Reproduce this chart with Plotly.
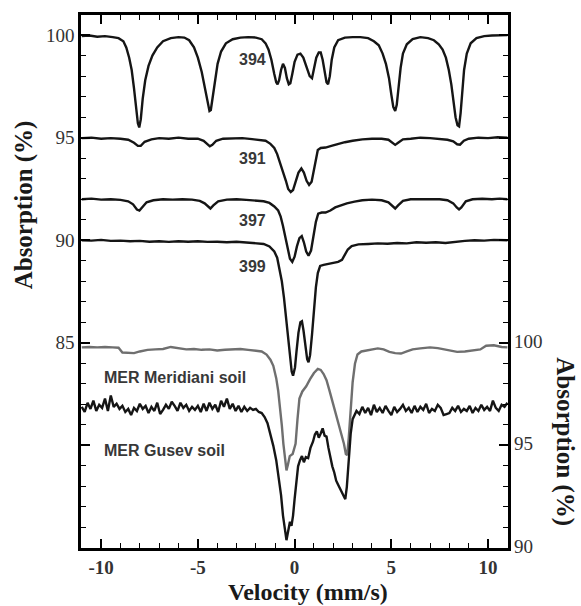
import plotly.graph_objects as go

# ---------------- data ----------------
v394 = [-11.0, -10.6, -10.2, -9.8, -9.4, -9.1, -8.85, -8.7, -8.55, -8.42, -8.3, -8.2, -8.1, -8.03, -7.95,
        -7.85, -7.72, -7.55, -7.35, -7.1, -6.8, -6.4, -6.0, -5.7, -5.45, -5.2, -5.0, -4.8, -4.62, -4.5,
        -4.4, -4.33, -4.25, -4.12, -3.98, -3.8, -3.55, -3.2, -2.8, -2.4, -2.0, -1.7, -1.5, -1.35, -1.2,
        -1.05, -0.95, -0.88, -0.8, -0.7, -0.6, -0.5, -0.4, -0.3, -0.22, -0.12, 0.0, 0.15, 0.3, 0.45,
        0.62, 0.78, 0.9, 1.0, 1.12, 1.25, 1.35, 1.45, 1.55, 1.65, 1.73, 1.82, 1.92, 2.05, 2.25,
        2.6, 3.0, 3.4, 3.8, 4.1, 4.35, 4.55, 4.72, 4.88, 5.0, 5.1, 5.2, 5.28, 5.38, 5.48,
        5.6, 5.8, 6.1, 6.5, 6.9, 7.2, 7.45, 7.65, 7.82, 7.97, 8.1, 8.22, 8.32, 8.42, 8.5,
        8.58, 8.66, 8.76, 8.9, 9.1, 9.4, 9.8, 10.2, 10.6, 11.0]
a394 = [99.95, 99.98, 99.92, 99.95, 99.9, 99.85, 99.7, 99.4, 98.9, 98.3, 97.4, 96.5, 95.7, 95.5, 95.9,
        96.9, 97.8, 98.5, 99.0, 99.4, 99.7, 99.85, 99.9, 99.88, 99.75, 99.4, 98.9, 98.2, 97.4, 96.7,
        96.3, 96.35, 96.9, 97.8, 98.6, 99.2, 99.6, 99.8, 99.88, 99.9, 99.88, 99.8, 99.6, 99.3, 98.8,
        98.1, 97.7, 97.6, 97.8, 98.3, 98.6, 98.4, 97.9, 97.6, 97.65, 98.1, 98.7, 99.05, 99.1, 98.9,
        98.4, 98.0, 97.9, 98.3, 98.9, 99.15, 99.15, 98.8, 98.2, 97.7, 97.6, 98.0, 98.8, 99.4, 99.75,
        99.88, 99.9, 99.9, 99.85, 99.7, 99.5, 99.1, 98.6, 97.9, 97.1, 96.5, 96.3, 96.6, 97.5, 98.4,
        99.1, 99.55, 99.8, 99.9, 99.85, 99.75, 99.55, 99.3, 98.9, 98.3, 97.6, 96.8, 96.0, 95.6, 95.55,
        96.2, 97.3, 98.3, 99.1, 99.6, 99.85, 99.95, 99.98, 100.0, 100.0]

v391 = [-11.0, -10.5, -10.0, -9.5, -9.0, -8.6, -8.3, -8.1, -7.95, -7.75, -7.4, -7.0, -6.5, -6.0, -5.5,
        -5.0, -4.7, -4.5, -4.38, -4.25, -4.05, -3.7, -3.2, -2.7, -2.2, -1.8, -1.5, -1.25, -1.05, -0.9,
        -0.75, -0.6, -0.45, -0.33, -0.2, -0.08, 0.05, 0.2, 0.35, 0.48, 0.62, 0.75, 0.88, 1.0, 1.1,
        1.2, 1.35, 1.6, 1.9, 2.2, 2.6, 3.0, 3.5, 4.0, 4.5, 4.85, 5.05, 5.2, 5.35, 5.6,
        6.0, 6.5, 7.0, 7.5, 7.9, 8.2, 8.4, 8.55, 8.75, 9.0, 9.5, 10.0, 10.5, 11.0]
a391 = [94.98, 95.0, 94.95, 94.98, 94.95, 94.9, 94.75, 94.6, 94.6, 94.8, 94.92, 94.98, 94.95, 95.0, 94.95,
        94.95, 94.85, 94.7, 94.58, 94.65, 94.85, 94.95, 94.95, 94.98, 94.93, 94.9, 94.85, 94.7, 94.5, 94.2,
        93.8, 93.4, 92.9, 92.5, 92.35, 92.45, 92.9, 93.3, 93.5, 93.3, 92.9, 92.7, 92.85, 93.4, 94.0,
        94.4, 94.5, 94.52, 94.6, 94.68, 94.78, 94.85, 94.92, 94.95, 94.95, 94.9, 94.78, 94.65, 94.75, 94.92,
        94.95, 95.0, 94.98, 94.95, 94.9, 94.82, 94.68, 94.66, 94.85, 94.95, 95.0, 94.98, 95.02, 95.0]

v397 = [-11.0, -10.5, -10.0, -9.5, -9.0, -8.6, -8.35, -8.15, -8.02, -7.88, -7.65, -7.3, -6.8, -6.3, -5.8,
        -5.3, -4.9, -4.65, -4.45, -4.35, -4.2, -3.95, -3.5, -3.0, -2.5, -2.0, -1.6, -1.3, -1.05, -0.85,
        -0.72, -0.6, -0.48, -0.36, -0.24, -0.12, 0.0, 0.12, 0.25, 0.37, 0.48, 0.6, 0.72, 0.85, 0.98,
        1.1, 1.22, 1.4, 1.6, 1.85, 2.1, 2.4, 2.7, 3.1, 3.5, 4.0, 4.5, 4.85, 5.05, 5.2,
        5.35, 5.6, 6.0, 6.5, 7.0, 7.5, 7.9, 8.2, 8.38, 8.5, 8.62, 8.85, 9.2, 9.7, 10.2, 10.6, 11.0]
a397 = [92.0, 92.03, 91.98, 92.0, 91.97, 91.9, 91.75, 91.5, 91.45, 91.6, 91.85, 91.95, 92.0, 91.98, 92.0,
        91.98, 91.92, 91.8, 91.6, 91.55, 91.7, 91.9, 91.98, 92.0, 91.97, 91.95, 91.9, 91.82, 91.65, 91.45,
        91.15, 90.7, 90.2, 89.6, 89.1, 88.95, 89.2, 89.7, 90.1, 90.2, 89.9, 89.45, 89.25, 89.5, 90.2,
        90.9, 91.3, 91.35, 91.35, 91.45, 91.6, 91.72, 91.8, 91.88, 91.95, 91.98, 91.95, 91.85, 91.7, 91.55,
        91.7, 91.92, 92.0, 92.0, 91.97, 92.0, 91.95, 91.8, 91.6, 91.5, 91.6, 91.9, 92.0, 92.02, 92.0, 92.03, 92.0]

v399 = [-11.0, -10.5, -10.0, -9.5, -9.0, -8.5, -8.0, -7.5, -7.0, -6.5, -6.0, -5.5, -5.0, -4.5, -4.0,
        -3.5, -3.0, -2.5, -2.0, -1.6, -1.3, -1.05, -0.9, -0.78, -0.66, -0.55, -0.45, -0.35, -0.25, -0.15,
        -0.08, 0.02, 0.1, 0.2, 0.3, 0.38, 0.46, 0.56, 0.65, 0.72, 0.8, 0.9, 1.0, 1.1, 1.2,
        1.32, 1.5, 1.75, 2.0, 2.25, 2.45, 2.6, 2.75, 2.95, 3.3, 3.8, 4.3, 4.8, 5.3, 5.8,
        6.3, 6.8, 7.3, 7.8, 8.3, 8.8, 9.3, 9.8, 10.3, 11.0]
a399 = [90.0, 89.98, 90.02, 89.97, 89.98, 89.95, 89.97, 89.93, 89.95, 89.92, 89.95, 89.93, 89.95, 89.92, 89.93,
        89.9, 89.93, 89.9, 89.88, 89.82, 89.7, 89.45, 89.15, 88.6, 88.0, 87.2, 86.3, 85.3, 84.3, 83.6,
        83.4, 83.8, 84.6, 85.5, 86.0, 86.05, 85.6, 84.8, 84.2, 84.05, 84.4, 85.4, 86.6, 87.7, 88.4,
        88.75, 88.8, 88.85, 88.9, 88.95, 89.05, 89.3, 89.55, 89.72, 89.8, 89.82, 89.85, 89.83, 89.87, 89.85,
        89.9, 89.88, 89.9, 89.87, 89.93, 89.97, 90.0, 89.98, 90.02, 90.0]

# MER soils, values on the right-hand axis (%)
v_mer_m = [-11.0, -10.6, -10.2, -9.8, -9.4, -9.1, -8.9, -8.6, -8.3, -8.0, -7.6, -7.2, -6.8, -6.4, -6.0,
           -5.6, -5.2, -4.8, -4.4, -4.0, -3.6, -3.2, -2.8, -2.4, -2.0, -1.7, -1.45, -1.25, -1.1, -0.95,
           -0.85, -0.75, -0.66, -0.58, -0.5, -0.42, -0.34, -0.25, -0.1, 0.05, 0.15, 0.25, 0.4, 0.6, 0.8,
           1.0, 1.2, 1.35, 1.5, 1.65, 1.8, 1.95, 2.1, 2.25, 2.4, 2.55, 2.65, 2.72, 2.8, 2.9,
           3.0, 3.12, 3.25, 3.45, 3.7, 4.0, 4.3, 4.6, 4.9, 5.2, 5.5, 5.8, 6.1, 6.5, 7.0,
           7.4, 7.8, 8.1, 8.4, 8.8, 9.2, 9.6, 9.9, 10.3, 10.7, 11.0]
a_mer_m = [99.7, 99.72, 99.7, 99.72, 99.7, 99.68, 99.45, 99.42, 99.42, 99.5, 99.58, 99.6, 99.62, 99.72, 99.65,
           99.6, 99.62, 99.58, 99.6, 99.55, 99.58, 99.6, 99.62, 99.58, 99.55, 99.5, 99.35, 99.1, 98.8, 98.2,
           97.6, 96.8, 95.9, 95.0, 94.3, 93.7, 94.0, 94.4, 94.5, 95.0, 96.2, 97.2, 97.55, 97.8, 98.15,
           98.45, 98.65, 98.6, 98.4, 98.1, 97.6, 97.1, 96.5, 96.0, 95.5, 95.0, 94.5, 94.45, 95.3, 96.8,
           98.0, 98.9, 99.35, 99.5, 99.55, 99.6, 99.65, 99.6, 99.48, 99.42, 99.4, 99.5, 99.6, 99.65, 99.7,
           99.66, 99.6, 99.55, 99.48, 99.5, 99.55, 99.6, 99.78, 99.8, 99.72, 99.7]

v_mer_g = [-11.0, -10.85, -10.7, -10.55, -10.4, -10.25, -10.1, -9.95, -9.8, -9.65, -9.5, -9.35, -9.2, -9.05, -8.9,
           -8.75, -8.6, -8.45, -8.3, -8.15, -8.0, -7.85, -7.7, -7.55, -7.4, -7.25, -7.1, -6.95, -6.8, -6.65,
           -6.5, -6.35, -6.2, -6.05, -5.9, -5.75, -5.6, -5.45, -5.3, -5.15, -5.0, -4.85, -4.7, -4.55, -4.4,
           -4.25, -4.1, -3.95, -3.8, -3.65, -3.5, -3.35, -3.2, -3.05, -2.9, -2.75, -2.6, -2.45, -2.3, -2.15,
           -2.0, -1.85, -1.7, -1.55, -1.4, -1.25, -1.1, -0.95, -0.82, -0.7, -0.6, -0.5, -0.42, -0.36, -0.3,
           -0.24, -0.16, -0.08, 0.0, 0.08, 0.18, 0.28, 0.38, 0.48, 0.58, 0.7, 0.82, 0.95, 1.05, 1.15,
           1.25, 1.35, 1.45, 1.55, 1.65, 1.75, 1.85, 1.95, 2.05, 2.15, 2.25, 2.35, 2.45, 2.55, 2.62,
           2.7, 2.8, 2.9, 3.0, 3.1, 3.2, 3.35, 3.5, 3.65, 3.8, 3.95, 4.1, 4.25, 4.4, 4.55,
           4.7, 4.85, 5.0, 5.15, 5.3, 5.45, 5.6, 5.75, 5.9, 6.05, 6.2, 6.35, 6.5, 6.65, 6.8,
           6.95, 7.1, 7.25, 7.4, 7.55, 7.7, 7.85, 8.0, 8.15, 8.3, 8.45, 8.6, 8.75, 8.9, 9.05,
           9.2, 9.35, 9.5, 9.65, 9.8, 9.95, 10.1, 10.25, 10.4, 10.55, 10.7, 10.85, 11.0]
a_mer_g = [96.8, 96.55, 97.0, 96.7, 97.1, 96.6, 96.9, 96.75, 97.2, 96.6, 97.35, 96.8, 96.95, 96.7, 96.85,
           96.55, 96.7, 96.4, 96.75, 96.6, 96.95, 96.7, 96.85, 96.5, 96.8, 96.6, 97.0, 96.45, 96.65, 96.9,
           96.7, 97.05, 96.85, 96.6, 97.0, 96.75, 96.9, 96.6, 96.8, 96.65, 96.85, 96.55, 96.95, 96.6, 97.0,
           96.7, 96.9, 96.55, 97.1, 96.8, 97.2, 96.7, 96.95, 96.6, 96.85, 96.55, 96.8, 96.6, 96.75, 96.65,
           96.7, 96.55, 96.5, 96.3, 96.0, 95.5, 94.9, 94.2, 93.4, 92.5, 91.5, 90.7, 90.3, 90.6, 90.9,
           91.2, 91.0, 91.5, 92.3, 93.2, 93.9, 94.2, 94.4, 94.1, 94.35, 94.3, 94.8, 95.1, 95.45, 95.6,
           95.3, 95.5, 95.75, 95.4, 95.35, 94.8, 94.3, 93.9, 93.6, 93.2, 93.0, 92.8, 92.65, 92.45, 92.3,
           92.9, 94.3, 95.5, 96.2, 96.4, 96.6, 96.45, 96.8, 96.5, 96.75, 96.4, 96.9, 96.55, 96.75, 96.5,
           96.85, 96.6, 96.4, 96.8, 96.55, 96.7, 96.9, 96.6, 96.75, 96.5, 96.85, 96.55, 96.8, 96.65, 96.95,
           96.5, 96.7, 96.6, 96.9, 96.75, 96.4, 96.45, 96.5, 96.75, 96.6, 96.85, 96.55, 96.7, 96.6, 96.85,
           96.5, 96.75, 96.6, 96.9, 96.65, 96.8, 96.6, 97.1, 96.75, 96.6, 96.9, 96.8, 97.0]

sample_labels = ["394", "391", "397", "399"]
sample_label_pos = [(-2.2, 98.8), (-2.2, 93.97), (-2.2, 90.97), (-2.2, 88.7)]
soil_labels = ["MER Meridiani soil", "MER Gusev soil"]
soil_label_pos = [(-9.97, 83.3), (-9.97, 79.76)]

x_ticks = [-10, -5, 0, 5, 10]
x_tick_text = ["<b>-10</b>", "<b>-5</b>", "<b>0</b>", "<b>5</b>", "<b>10</b>"]
y_left_ticks = [80, 85, 90, 95, 100]
y_left_text = ["", "85", "90", "95", "100"]
y_right_ticks = [90, 95, 100]

X_RANGE = [-11.04, 11.03]
YL_RANGE = [75.0, 100.98]
# right-hand scale = left-hand scale shifted by this amount (right value - shift = left value)
RIGHT_SHIFT = 14.92

# ---------------- figure ----------------
BLACK = "#151515"
GRAY = "#6f6f6f"
LW = 2.4
serif = "Liberation Serif"

fig = go.Figure()
for vx, ay in [(v394, a394), (v391, a391), (v397, a397), (v399, a399)]:
    fig.add_trace(go.Scatter(x=vx, y=ay, mode="lines", line=dict(color=BLACK, width=LW),
                             showlegend=False))
for vx, ay, col in [(v_mer_m, a_mer_m, GRAY), (v_mer_g, a_mer_g, BLACK)]:
    fig.add_trace(go.Scatter(x=vx, y=[a - RIGHT_SHIFT for a in ay], mode="lines",
                             line=dict(color=col, width=LW), showlegend=False))

ann = []
for t, (x, y) in zip(sample_labels, sample_label_pos):
    ann.append(dict(x=x, y=y, xref="x", yref="y", text="<b>" + t + "</b>", showarrow=False,
                    xanchor="center", yanchor="middle",
                    font=dict(family="Liberation Sans", size=16, color="#383838")))
for t, (x, y) in zip(soil_labels, soil_label_pos):
    ann.append(dict(x=x, y=y, xref="x", yref="y", text="<b>" + t + "</b>", showarrow=False,
                    xanchor="left", yanchor="middle",
                    font=dict(family="Liberation Sans", size=16, color="#383838")))

# right-hand axis tick labels (MER scale)
for v in y_right_ticks:
    ann.append(dict(x=1.0, y=v - RIGHT_SHIFT, xref="paper", yref="y", text=str(v), showarrow=False,
                    xanchor="left", yanchor="middle", xshift=4,
                    font=dict(family=serif, size=19, color="#333333")))

ann.append(dict(x=-0.1336, y=0.6447, xref="paper", yref="paper", text="<b>Absorption (%)</b>",
                textangle=-90, showarrow=False, xanchor="center", yanchor="middle",
                font=dict(family=serif, size=25, color="#1a1a1a")))
ann.append(dict(x=1.1343, y=0.1996, xref="paper", yref="paper", text="<b>Absorption (%)</b>",
                textangle=90, showarrow=False, xanchor="center", yanchor="middle",
                font=dict(family=serif, size=25, color="#1a1a1a")))
ann.append(dict(x=0.531, y=-0.109, xref="paper", yref="paper", text="<b>Velocity (mm/s)</b>",
                showarrow=False, xanchor="center", yanchor="bottom", borderpad=0,
                font=dict(family=serif, size=24, color="#1a1a1a")))

fig.update_layout(
    width=581, height=606,
    margin=dict(l=81, r=73, t=13, b=58),
    paper_bgcolor="white", plot_bgcolor="white",
    font=dict(family=serif, size=19, color="#333333"),
    annotations=ann,
    xaxis=dict(range=X_RANGE, tickmode="array", tickvals=x_ticks, ticktext=x_tick_text,
               ticks="inside", ticklen=9, tickwidth=2, tickcolor="black",
               minor=dict(ticks="inside", ticklen=5, tickwidth=1, tickcolor="black", dtick=1),
               showline=True, linewidth=2.5, linecolor="black", mirror="ticks",
               showgrid=False, zeroline=False),
    yaxis=dict(range=YL_RANGE, tickmode="array", tickvals=y_left_ticks, ticktext=y_left_text,
               ticks="inside", ticklen=9, tickwidth=2, tickcolor="black",
               minor=dict(ticks="inside", ticklen=5, tickwidth=1, tickcolor="black", dtick=1),
               showline=True, linewidth=2.5, linecolor="black", mirror="ticks",
               showgrid=False, zeroline=False),
)

fig.write_html("out.html")
